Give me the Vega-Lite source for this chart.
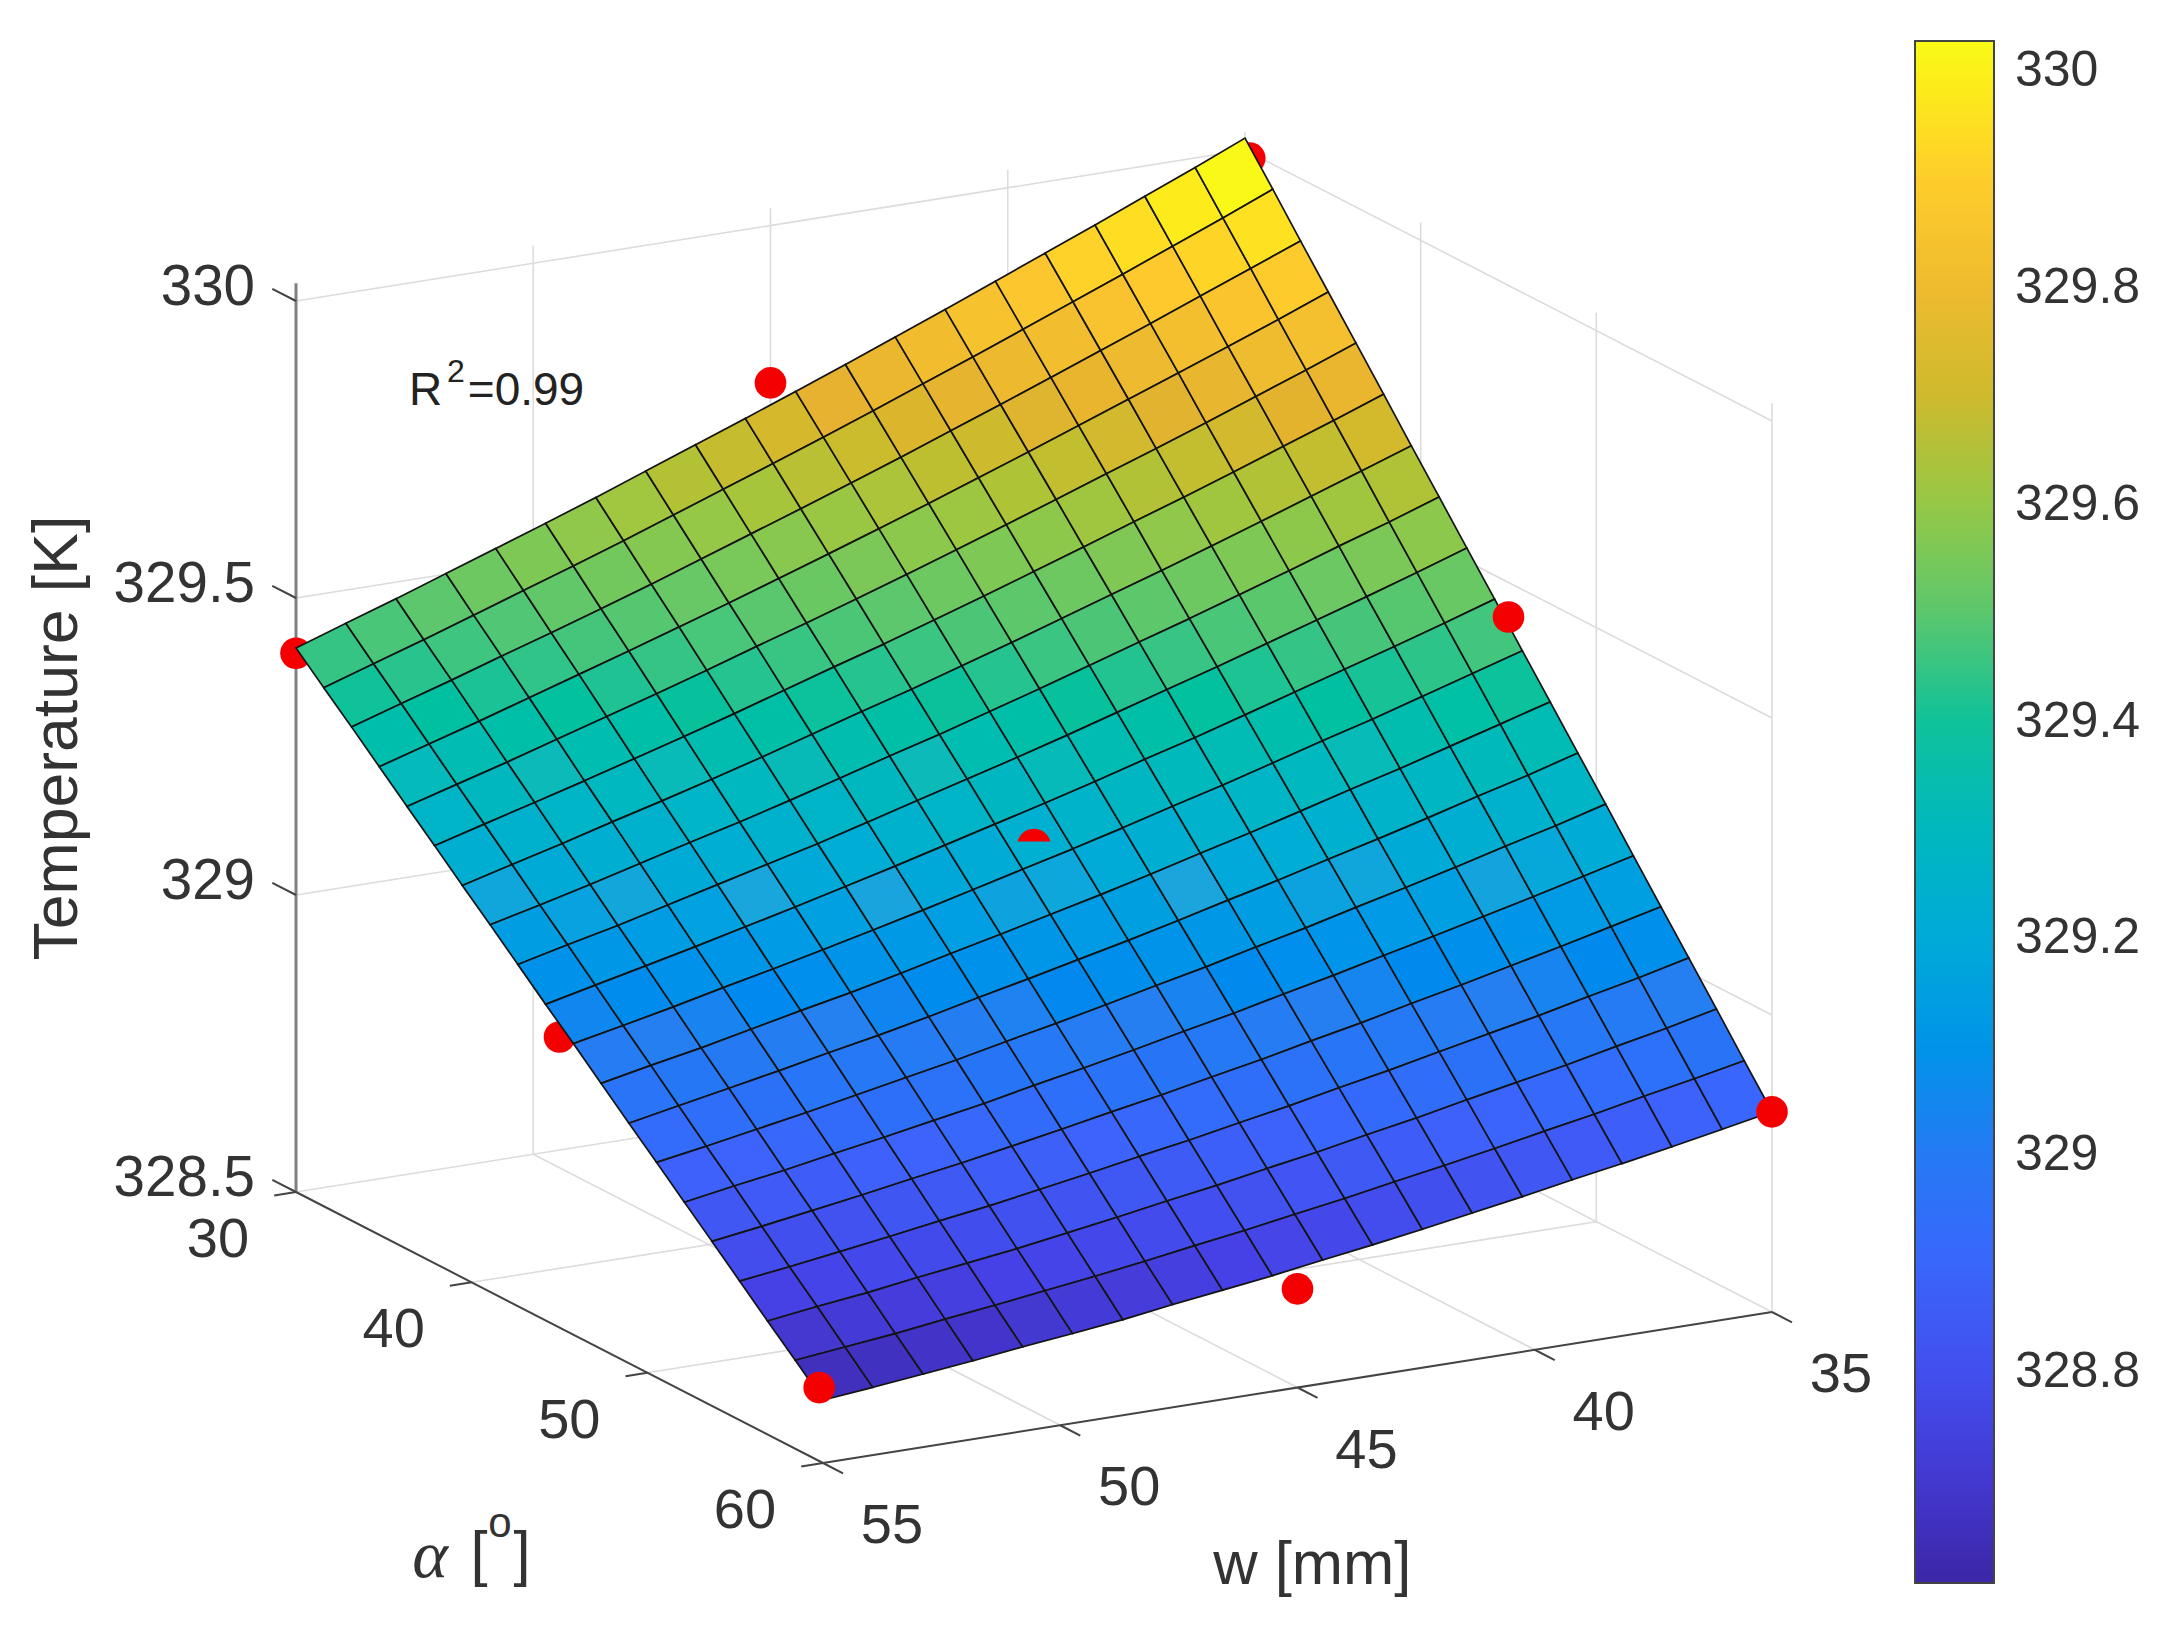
{"$schema":"https://vega.github.io/schema/vega-lite/v6.json","width":2183,"height":1647,"padding":0,"autosize":{"type":"none"},"background":"white","config":{"view":{"stroke":null},"text":{"font":"Liberation Sans"}},
"data":{"values":[
{"kind":"g","id":"f35","w":35,"a":30,"T":328.5},{"kind":"g","id":"f35","w":35,"a":60,"T":328.5},
{"kind":"g","id":"f40","w":40,"a":30,"T":328.5},{"kind":"g","id":"f40","w":40,"a":60,"T":328.5},
{"kind":"g","id":"f45","w":45,"a":30,"T":328.5},{"kind":"g","id":"f45","w":45,"a":60,"T":328.5},
{"kind":"g","id":"f50","w":50,"a":30,"T":328.5},{"kind":"g","id":"f50","w":50,"a":60,"T":328.5},
{"kind":"g","id":"fa30","w":55,"a":30,"T":328.5},{"kind":"g","id":"fa30","w":35,"a":30,"T":328.5},
{"kind":"g","id":"fa40","w":55,"a":40,"T":328.5},{"kind":"g","id":"fa40","w":35,"a":40,"T":328.5},
{"kind":"g","id":"fa50","w":55,"a":50,"T":328.5},{"kind":"g","id":"fa50","w":35,"a":50,"T":328.5},
{"kind":"g","id":"wa329","w":55,"a":30,"T":329},{"kind":"g","id":"wa329","w":35,"a":30,"T":329},
{"kind":"g","id":"wa3295","w":55,"a":30,"T":329.5},{"kind":"g","id":"wa3295","w":35,"a":30,"T":329.5},
{"kind":"g","id":"wa330","w":55,"a":30,"T":330},{"kind":"g","id":"wa330","w":35,"a":30,"T":330},
{"kind":"g","id":"wv50","w":50,"a":30,"T":328.5},{"kind":"g","id":"wv50","w":50,"a":30,"T":330.03},
{"kind":"g","id":"wv45","w":45,"a":30,"T":328.5},{"kind":"g","id":"wv45","w":45,"a":30,"T":330.03},
{"kind":"g","id":"wv40","w":40,"a":30,"T":328.5},{"kind":"g","id":"wv40","w":40,"a":30,"T":330.03},
{"kind":"g","id":"wv35","w":35,"a":30,"T":328.5},{"kind":"g","id":"wv35","w":35,"a":30,"T":330.03},
{"kind":"g","id":"wb329","w":35,"a":30,"T":329},{"kind":"g","id":"wb329","w":35,"a":60,"T":329},
{"kind":"g","id":"wb3295","w":35,"a":30,"T":329.5},{"kind":"g","id":"wb3295","w":35,"a":60,"T":329.5},
{"kind":"g","id":"wb330","w":35,"a":30,"T":330},{"kind":"g","id":"wb330","w":35,"a":60,"T":330},
{"kind":"g","id":"bv40","w":35,"a":40,"T":328.5},{"kind":"g","id":"bv40","w":35,"a":40,"T":330.03},
{"kind":"g","id":"bv50","w":35,"a":50,"T":328.5},{"kind":"g","id":"bv50","w":35,"a":50,"T":330.03},
{"kind":"g","id":"bv60","w":35,"a":60,"T":328.5},{"kind":"g","id":"bv60","w":35,"a":60,"T":330.03},
{"kind":"z","id":"zaxis","w":55,"a":30,"T":328.5},{"kind":"z","id":"zaxis","w":55,"a":30,"T":330.03},
{"kind":"x","id":"aaxis","w":55,"a":30,"T":328.5},{"kind":"x","id":"aaxis","w":55,"a":60,"T":328.5},
{"kind":"x","id":"waxis","w":55,"a":60,"T":328.5},{"kind":"x","id":"waxis","w":35,"a":60,"T":328.5},
{"kind":"x","id":"zt1","w":55,"a":30,"T":328.5},{"kind":"x","id":"zt1","w":55,"a":28.65,"T":328.5},
{"kind":"x","id":"zt2","w":55,"a":30,"T":329},{"kind":"x","id":"zt2","w":55,"a":28.65,"T":329},
{"kind":"x","id":"zt3","w":55,"a":30,"T":329.5},{"kind":"x","id":"zt3","w":55,"a":28.65,"T":329.5},
{"kind":"x","id":"zt4","w":55,"a":30,"T":330},{"kind":"x","id":"zt4","w":55,"a":28.65,"T":330},
{"kind":"x","id":"at1","w":55,"a":30,"T":328.5},{"kind":"x","id":"at1","w":55.46,"a":30,"T":328.5},
{"kind":"x","id":"at2","w":55,"a":40,"T":328.5},{"kind":"x","id":"at2","w":55.46,"a":40,"T":328.5},
{"kind":"x","id":"at3","w":55,"a":50,"T":328.5},{"kind":"x","id":"at3","w":55.46,"a":50,"T":328.5},
{"kind":"x","id":"at4","w":55,"a":60,"T":328.5},{"kind":"x","id":"at4","w":55.46,"a":60,"T":328.5},
{"kind":"x","id":"wt1","w":55,"a":60,"T":328.5},{"kind":"x","id":"wt1","w":55,"a":61.14,"T":328.5},
{"kind":"x","id":"wt2","w":50,"a":60,"T":328.5},{"kind":"x","id":"wt2","w":50,"a":61.14,"T":328.5},
{"kind":"x","id":"wt3","w":45,"a":60,"T":328.5},{"kind":"x","id":"wt3","w":45,"a":61.14,"T":328.5},
{"kind":"x","id":"wt4","w":40,"a":60,"T":328.5},{"kind":"x","id":"wt4","w":40,"a":61.14,"T":328.5},
{"kind":"x","id":"wt5","w":35,"a":60,"T":328.5},{"kind":"x","id":"wt5","w":35,"a":61.14,"T":328.5},
{"kind":"below","w":55,"a":30,"T":329.407},{"kind":"below","w":34.9,"a":30,"T":329.985},{"kind":"below","w":55,"a":45,"T":328.989},
{"kind":"cap","w":45,"a":45,"T":329.184},
{"kind":"above","w":45,"a":30,"T":329.735},{"kind":"above","w":35,"a":45,"T":329.442},{"kind":"above","w":55.08,"a":60,"T":328.628},{"kind":"above","w":45,"a":60,"T":328.666},{"kind":"above","w":35,"a":60,"T":328.837},
{"kind":"zl","w":55,"a":30,"T":330,"label":"330"},{"kind":"zl","w":55,"a":30,"T":329.5,"label":"329.5"},{"kind":"zl","w":55,"a":30,"T":329,"label":"329"},{"kind":"zl","w":55,"a":30,"T":328.5,"label":"328.5"},
{"kind":"al","w":55,"a":30,"T":328.5,"label":"30"},{"kind":"al","w":55,"a":40,"T":328.5,"label":"40"},{"kind":"al","w":55,"a":50,"T":328.5,"label":"50"},{"kind":"al","w":55,"a":60,"T":328.5,"label":"60"},
{"kind":"wl","w":55,"a":60,"T":328.5,"label":"55"},{"kind":"wl","w":50,"a":60,"T":328.5,"label":"50"},{"kind":"wl","w":45,"a":60,"T":328.5,"label":"45"},{"kind":"wl","w":40,"a":60,"T":328.5,"label":"40"},{"kind":"wl","w":35,"a":60,"T":328.5,"label":"35"},
{"kind":"ty","w":60.02,"a":30,"T":329.328,"label":"Temperature [K]"},
{"kind":"t","w":44.69,"a":60,"T":328.195,"label":"w [mm]"},
{"kind":"t","w":62.25,"a":60,"T":328.436,"label":"["},
{"kind":"t","w":61.34,"a":60,"T":328.424,"label":"]"},
{"kind":"tsup","w":61.81,"a":60,"T":328.484,"label":"o"},
{"kind":"talpha","w":63.28,"a":60,"T":328.447,"label":"α"},
{"kind":"r","w":52.62,"a":30,"T":329.794,"label":"R"},
{"kind":"r2","w":51.82,"a":30,"T":329.823,"label":"2"},
{"kind":"r","w":51.38,"a":30,"T":329.779,"label":"=0.99"},
{"kind":"cb","T":328.8},{"kind":"cb","T":329},{"kind":"cb","T":329.2},{"kind":"cb","T":329.4},{"kind":"cb","T":329.6},{"kind":"cb","T":329.8},{"kind":"cb","T":330},
{"kind":"s","w":55,"a":30,"T":329.416},{"kind":"s","w":55,"a":31.58,"T":329.373},{"kind":"s","w":55,"a":33.16,"T":329.331},{"kind":"s","w":55,"a":34.74,"T":329.288},{"kind":"s","w":55,"a":36.32,"T":329.245},{"kind":"s","w":55,"a":37.89,"T":329.203},{"kind":"s","w":55,"a":39.47,"T":329.16},{"kind":"s","w":55,"a":41.05,"T":329.118},{"kind":"s","w":55,"a":42.63,"T":329.075},{"kind":"s","w":55,"a":44.21,"T":329.032},{"kind":"s","w":55,"a":45.79,"T":328.99},{"kind":"s","w":55,"a":47.37,"T":328.947},{"kind":"s","w":55,"a":48.95,"T":328.904},{"kind":"s","w":55,"a":50.53,"T":328.862},{"kind":"s","w":55,"a":52.11,"T":328.819},{"kind":"s","w":55,"a":53.68,"T":328.777},{"kind":"s","w":55,"a":55.26,"T":328.734},{"kind":"s","w":55,"a":56.84,"T":328.691},{"kind":"s","w":55,"a":58.42,"T":328.649},{"kind":"s","w":55,"a":60,"T":328.606},
{"kind":"s","w":53.95,"a":30,"T":329.444},{"kind":"s","w":53.95,"a":31.58,"T":329.4},{"kind":"s","w":53.95,"a":33.16,"T":329.357},{"kind":"s","w":53.95,"a":34.74,"T":329.313},{"kind":"s","w":53.95,"a":36.32,"T":329.269},{"kind":"s","w":53.95,"a":37.89,"T":329.226},{"kind":"s","w":53.95,"a":39.47,"T":329.182},{"kind":"s","w":53.95,"a":41.05,"T":329.138},{"kind":"s","w":53.95,"a":42.63,"T":329.095},{"kind":"s","w":53.95,"a":44.21,"T":329.051},{"kind":"s","w":53.95,"a":45.79,"T":329.007},{"kind":"s","w":53.95,"a":47.37,"T":328.964},{"kind":"s","w":53.95,"a":48.95,"T":328.92},{"kind":"s","w":53.95,"a":50.53,"T":328.876},{"kind":"s","w":53.95,"a":52.11,"T":328.833},{"kind":"s","w":53.95,"a":53.68,"T":328.789},{"kind":"s","w":53.95,"a":55.26,"T":328.745},{"kind":"s","w":53.95,"a":56.84,"T":328.702},{"kind":"s","w":53.95,"a":58.42,"T":328.658},{"kind":"s","w":53.95,"a":60,"T":328.614},
{"kind":"s","w":52.89,"a":30,"T":329.472},{"kind":"s","w":52.89,"a":31.58,"T":329.427},{"kind":"s","w":52.89,"a":33.16,"T":329.383},{"kind":"s","w":52.89,"a":34.74,"T":329.338},{"kind":"s","w":52.89,"a":36.32,"T":329.293},{"kind":"s","w":52.89,"a":37.89,"T":329.249},{"kind":"s","w":52.89,"a":39.47,"T":329.204},{"kind":"s","w":52.89,"a":41.05,"T":329.159},{"kind":"s","w":52.89,"a":42.63,"T":329.114},{"kind":"s","w":52.89,"a":44.21,"T":329.07},{"kind":"s","w":52.89,"a":45.79,"T":329.025},{"kind":"s","w":52.89,"a":47.37,"T":328.98},{"kind":"s","w":52.89,"a":48.95,"T":328.936},{"kind":"s","w":52.89,"a":50.53,"T":328.891},{"kind":"s","w":52.89,"a":52.11,"T":328.846},{"kind":"s","w":52.89,"a":53.68,"T":328.802},{"kind":"s","w":52.89,"a":55.26,"T":328.757},{"kind":"s","w":52.89,"a":56.84,"T":328.712},{"kind":"s","w":52.89,"a":58.42,"T":328.667},{"kind":"s","w":52.89,"a":60,"T":328.623},
{"kind":"s","w":51.84,"a":30,"T":329.501},{"kind":"s","w":51.84,"a":31.58,"T":329.455},{"kind":"s","w":51.84,"a":33.16,"T":329.41},{"kind":"s","w":51.84,"a":34.74,"T":329.364},{"kind":"s","w":51.84,"a":36.32,"T":329.318},{"kind":"s","w":51.84,"a":37.89,"T":329.272},{"kind":"s","w":51.84,"a":39.47,"T":329.227},{"kind":"s","w":51.84,"a":41.05,"T":329.181},{"kind":"s","w":51.84,"a":42.63,"T":329.135},{"kind":"s","w":51.84,"a":44.21,"T":329.089},{"kind":"s","w":51.84,"a":45.79,"T":329.044},{"kind":"s","w":51.84,"a":47.37,"T":328.998},{"kind":"s","w":51.84,"a":48.95,"T":328.952},{"kind":"s","w":51.84,"a":50.53,"T":328.906},{"kind":"s","w":51.84,"a":52.11,"T":328.861},{"kind":"s","w":51.84,"a":53.68,"T":328.815},{"kind":"s","w":51.84,"a":55.26,"T":328.769},{"kind":"s","w":51.84,"a":56.84,"T":328.724},{"kind":"s","w":51.84,"a":58.42,"T":328.678},{"kind":"s","w":51.84,"a":60,"T":328.632},
{"kind":"s","w":50.79,"a":30,"T":329.53},{"kind":"s","w":50.79,"a":31.58,"T":329.483},{"kind":"s","w":50.79,"a":33.16,"T":329.436},{"kind":"s","w":50.79,"a":34.74,"T":329.39},{"kind":"s","w":50.79,"a":36.32,"T":329.343},{"kind":"s","w":50.79,"a":37.89,"T":329.296},{"kind":"s","w":50.79,"a":39.47,"T":329.249},{"kind":"s","w":50.79,"a":41.05,"T":329.203},{"kind":"s","w":50.79,"a":42.63,"T":329.156},{"kind":"s","w":50.79,"a":44.21,"T":329.109},{"kind":"s","w":50.79,"a":45.79,"T":329.062},{"kind":"s","w":50.79,"a":47.37,"T":329.016},{"kind":"s","w":50.79,"a":48.95,"T":328.969},{"kind":"s","w":50.79,"a":50.53,"T":328.922},{"kind":"s","w":50.79,"a":52.11,"T":328.875},{"kind":"s","w":50.79,"a":53.68,"T":328.829},{"kind":"s","w":50.79,"a":55.26,"T":328.782},{"kind":"s","w":50.79,"a":56.84,"T":328.735},{"kind":"s","w":50.79,"a":58.42,"T":328.688},{"kind":"s","w":50.79,"a":60,"T":328.642},
{"kind":"s","w":49.74,"a":30,"T":329.559},{"kind":"s","w":49.74,"a":31.58,"T":329.511},{"kind":"s","w":49.74,"a":33.16,"T":329.463},{"kind":"s","w":49.74,"a":34.74,"T":329.416},{"kind":"s","w":49.74,"a":36.32,"T":329.368},{"kind":"s","w":49.74,"a":37.89,"T":329.32},{"kind":"s","w":49.74,"a":39.47,"T":329.272},{"kind":"s","w":49.74,"a":41.05,"T":329.224},{"kind":"s","w":49.74,"a":42.63,"T":329.177},{"kind":"s","w":49.74,"a":44.21,"T":329.129},{"kind":"s","w":49.74,"a":45.79,"T":329.081},{"kind":"s","w":49.74,"a":47.37,"T":329.033},{"kind":"s","w":49.74,"a":48.95,"T":328.985},{"kind":"s","w":49.74,"a":50.53,"T":328.938},{"kind":"s","w":49.74,"a":52.11,"T":328.89},{"kind":"s","w":49.74,"a":53.68,"T":328.842},{"kind":"s","w":49.74,"a":55.26,"T":328.794},{"kind":"s","w":49.74,"a":56.84,"T":328.746},{"kind":"s","w":49.74,"a":58.42,"T":328.699},{"kind":"s","w":49.74,"a":60,"T":328.651},
{"kind":"s","w":48.68,"a":30,"T":329.589},{"kind":"s","w":48.68,"a":31.58,"T":329.54},{"kind":"s","w":48.68,"a":33.16,"T":329.491},{"kind":"s","w":48.68,"a":34.74,"T":329.443},{"kind":"s","w":48.68,"a":36.32,"T":329.394},{"kind":"s","w":48.68,"a":37.89,"T":329.345},{"kind":"s","w":48.68,"a":39.47,"T":329.296},{"kind":"s","w":48.68,"a":41.05,"T":329.247},{"kind":"s","w":48.68,"a":42.63,"T":329.198},{"kind":"s","w":48.68,"a":44.21,"T":329.15},{"kind":"s","w":48.68,"a":45.79,"T":329.101},{"kind":"s","w":48.68,"a":47.37,"T":329.052},{"kind":"s","w":48.68,"a":48.95,"T":329.003},{"kind":"s","w":48.68,"a":50.53,"T":328.954},{"kind":"s","w":48.68,"a":52.11,"T":328.905},{"kind":"s","w":48.68,"a":53.68,"T":328.857},{"kind":"s","w":48.68,"a":55.26,"T":328.808},{"kind":"s","w":48.68,"a":56.84,"T":328.759},{"kind":"s","w":48.68,"a":58.42,"T":328.71},{"kind":"s","w":48.68,"a":60,"T":328.661},
{"kind":"s","w":47.63,"a":30,"T":329.62},{"kind":"s","w":47.63,"a":31.58,"T":329.57},{"kind":"s","w":47.63,"a":33.16,"T":329.52},{"kind":"s","w":47.63,"a":34.74,"T":329.47},{"kind":"s","w":47.63,"a":36.32,"T":329.421},{"kind":"s","w":47.63,"a":37.89,"T":329.371},{"kind":"s","w":47.63,"a":39.47,"T":329.321},{"kind":"s","w":47.63,"a":41.05,"T":329.271},{"kind":"s","w":47.63,"a":42.63,"T":329.221},{"kind":"s","w":47.63,"a":44.21,"T":329.171},{"kind":"s","w":47.63,"a":45.79,"T":329.121},{"kind":"s","w":47.63,"a":47.37,"T":329.072},{"kind":"s","w":47.63,"a":48.95,"T":329.022},{"kind":"s","w":47.63,"a":50.53,"T":328.972},{"kind":"s","w":47.63,"a":52.11,"T":328.922},{"kind":"s","w":47.63,"a":53.68,"T":328.872},{"kind":"s","w":47.63,"a":55.26,"T":328.822},{"kind":"s","w":47.63,"a":56.84,"T":328.772},{"kind":"s","w":47.63,"a":58.42,"T":328.722},{"kind":"s","w":47.63,"a":60,"T":328.673},
{"kind":"s","w":46.58,"a":30,"T":329.651},{"kind":"s","w":46.58,"a":31.58,"T":329.6},{"kind":"s","w":46.58,"a":33.16,"T":329.549},{"kind":"s","w":46.58,"a":34.74,"T":329.498},{"kind":"s","w":46.58,"a":36.32,"T":329.447},{"kind":"s","w":46.58,"a":37.89,"T":329.397},{"kind":"s","w":46.58,"a":39.47,"T":329.346},{"kind":"s","w":46.58,"a":41.05,"T":329.295},{"kind":"s","w":46.58,"a":42.63,"T":329.244},{"kind":"s","w":46.58,"a":44.21,"T":329.193},{"kind":"s","w":46.58,"a":45.79,"T":329.142},{"kind":"s","w":46.58,"a":47.37,"T":329.091},{"kind":"s","w":46.58,"a":48.95,"T":329.04},{"kind":"s","w":46.58,"a":50.53,"T":328.989},{"kind":"s","w":46.58,"a":52.11,"T":328.938},{"kind":"s","w":46.58,"a":53.68,"T":328.888},{"kind":"s","w":46.58,"a":55.26,"T":328.837},{"kind":"s","w":46.58,"a":56.84,"T":328.786},{"kind":"s","w":46.58,"a":58.42,"T":328.735},{"kind":"s","w":46.58,"a":60,"T":328.684},
{"kind":"s","w":45.53,"a":30,"T":329.682},{"kind":"s","w":45.53,"a":31.58,"T":329.63},{"kind":"s","w":45.53,"a":33.16,"T":329.578},{"kind":"s","w":45.53,"a":34.74,"T":329.526},{"kind":"s","w":45.53,"a":36.32,"T":329.474},{"kind":"s","w":45.53,"a":37.89,"T":329.422},{"kind":"s","w":45.53,"a":39.47,"T":329.37},{"kind":"s","w":45.53,"a":41.05,"T":329.318},{"kind":"s","w":45.53,"a":42.63,"T":329.267},{"kind":"s","w":45.53,"a":44.21,"T":329.215},{"kind":"s","w":45.53,"a":45.79,"T":329.163},{"kind":"s","w":45.53,"a":47.37,"T":329.111},{"kind":"s","w":45.53,"a":48.95,"T":329.059},{"kind":"s","w":45.53,"a":50.53,"T":329.007},{"kind":"s","w":45.53,"a":52.11,"T":328.955},{"kind":"s","w":45.53,"a":53.68,"T":328.903},{"kind":"s","w":45.53,"a":55.26,"T":328.851},{"kind":"s","w":45.53,"a":56.84,"T":328.799},{"kind":"s","w":45.53,"a":58.42,"T":328.747},{"kind":"s","w":45.53,"a":60,"T":328.695},
{"kind":"s","w":44.47,"a":30,"T":329.714},{"kind":"s","w":44.47,"a":31.58,"T":329.661},{"kind":"s","w":44.47,"a":33.16,"T":329.608},{"kind":"s","w":44.47,"a":34.74,"T":329.555},{"kind":"s","w":44.47,"a":36.32,"T":329.502},{"kind":"s","w":44.47,"a":37.89,"T":329.449},{"kind":"s","w":44.47,"a":39.47,"T":329.396},{"kind":"s","w":44.47,"a":41.05,"T":329.343},{"kind":"s","w":44.47,"a":42.63,"T":329.29},{"kind":"s","w":44.47,"a":44.21,"T":329.237},{"kind":"s","w":44.47,"a":45.79,"T":329.184},{"kind":"s","w":44.47,"a":47.37,"T":329.131},{"kind":"s","w":44.47,"a":48.95,"T":329.078},{"kind":"s","w":44.47,"a":50.53,"T":329.026},{"kind":"s","w":44.47,"a":52.11,"T":328.973},{"kind":"s","w":44.47,"a":53.68,"T":328.92},{"kind":"s","w":44.47,"a":55.26,"T":328.867},{"kind":"s","w":44.47,"a":56.84,"T":328.814},{"kind":"s","w":44.47,"a":58.42,"T":328.761},{"kind":"s","w":44.47,"a":60,"T":328.708},
{"kind":"s","w":43.42,"a":30,"T":329.746},{"kind":"s","w":43.42,"a":31.58,"T":329.692},{"kind":"s","w":43.42,"a":33.16,"T":329.638},{"kind":"s","w":43.42,"a":34.74,"T":329.584},{"kind":"s","w":43.42,"a":36.32,"T":329.53},{"kind":"s","w":43.42,"a":37.89,"T":329.476},{"kind":"s","w":43.42,"a":39.47,"T":329.422},{"kind":"s","w":43.42,"a":41.05,"T":329.368},{"kind":"s","w":43.42,"a":42.63,"T":329.314},{"kind":"s","w":43.42,"a":44.21,"T":329.26},{"kind":"s","w":43.42,"a":45.79,"T":329.206},{"kind":"s","w":43.42,"a":47.37,"T":329.152},{"kind":"s","w":43.42,"a":48.95,"T":329.098},{"kind":"s","w":43.42,"a":50.53,"T":329.044},{"kind":"s","w":43.42,"a":52.11,"T":328.99},{"kind":"s","w":43.42,"a":53.68,"T":328.936},{"kind":"s","w":43.42,"a":55.26,"T":328.882},{"kind":"s","w":43.42,"a":56.84,"T":328.828},{"kind":"s","w":43.42,"a":58.42,"T":328.774},{"kind":"s","w":43.42,"a":60,"T":328.72},
{"kind":"s","w":42.37,"a":30,"T":329.779},{"kind":"s","w":42.37,"a":31.58,"T":329.724},{"kind":"s","w":42.37,"a":33.16,"T":329.669},{"kind":"s","w":42.37,"a":34.74,"T":329.614},{"kind":"s","w":42.37,"a":36.32,"T":329.559},{"kind":"s","w":42.37,"a":37.89,"T":329.504},{"kind":"s","w":42.37,"a":39.47,"T":329.449},{"kind":"s","w":42.37,"a":41.05,"T":329.394},{"kind":"s","w":42.37,"a":42.63,"T":329.339},{"kind":"s","w":42.37,"a":44.21,"T":329.284},{"kind":"s","w":42.37,"a":45.79,"T":329.229},{"kind":"s","w":42.37,"a":47.37,"T":329.174},{"kind":"s","w":42.37,"a":48.95,"T":329.119},{"kind":"s","w":42.37,"a":50.53,"T":329.064},{"kind":"s","w":42.37,"a":52.11,"T":329.009},{"kind":"s","w":42.37,"a":53.68,"T":328.954},{"kind":"s","w":42.37,"a":55.26,"T":328.899},{"kind":"s","w":42.37,"a":56.84,"T":328.844},{"kind":"s","w":42.37,"a":58.42,"T":328.789},{"kind":"s","w":42.37,"a":60,"T":328.733},
{"kind":"s","w":41.32,"a":30,"T":329.812},{"kind":"s","w":41.32,"a":31.58,"T":329.756},{"kind":"s","w":41.32,"a":33.16,"T":329.7},{"kind":"s","w":41.32,"a":34.74,"T":329.644},{"kind":"s","w":41.32,"a":36.32,"T":329.588},{"kind":"s","w":41.32,"a":37.89,"T":329.532},{"kind":"s","w":41.32,"a":39.47,"T":329.476},{"kind":"s","w":41.32,"a":41.05,"T":329.42},{"kind":"s","w":41.32,"a":42.63,"T":329.364},{"kind":"s","w":41.32,"a":44.21,"T":329.307},{"kind":"s","w":41.32,"a":45.79,"T":329.251},{"kind":"s","w":41.32,"a":47.37,"T":329.195},{"kind":"s","w":41.32,"a":48.95,"T":329.139},{"kind":"s","w":41.32,"a":50.53,"T":329.083},{"kind":"s","w":41.32,"a":52.11,"T":329.027},{"kind":"s","w":41.32,"a":53.68,"T":328.971},{"kind":"s","w":41.32,"a":55.26,"T":328.915},{"kind":"s","w":41.32,"a":56.84,"T":328.859},{"kind":"s","w":41.32,"a":58.42,"T":328.803},{"kind":"s","w":41.32,"a":60,"T":328.747},
{"kind":"s","w":40.26,"a":30,"T":329.846},{"kind":"s","w":40.26,"a":31.58,"T":329.789},{"kind":"s","w":40.26,"a":33.16,"T":329.732},{"kind":"s","w":40.26,"a":34.74,"T":329.675},{"kind":"s","w":40.26,"a":36.32,"T":329.618},{"kind":"s","w":40.26,"a":37.89,"T":329.561},{"kind":"s","w":40.26,"a":39.47,"T":329.503},{"kind":"s","w":40.26,"a":41.05,"T":329.446},{"kind":"s","w":40.26,"a":42.63,"T":329.389},{"kind":"s","w":40.26,"a":44.21,"T":329.332},{"kind":"s","w":40.26,"a":45.79,"T":329.275},{"kind":"s","w":40.26,"a":47.37,"T":329.218},{"kind":"s","w":40.26,"a":48.95,"T":329.161},{"kind":"s","w":40.26,"a":50.53,"T":329.104},{"kind":"s","w":40.26,"a":52.11,"T":329.047},{"kind":"s","w":40.26,"a":53.68,"T":328.99},{"kind":"s","w":40.26,"a":55.26,"T":328.933},{"kind":"s","w":40.26,"a":56.84,"T":328.876},{"kind":"s","w":40.26,"a":58.42,"T":328.818},{"kind":"s","w":40.26,"a":60,"T":328.761},
{"kind":"s","w":39.21,"a":30,"T":329.88},{"kind":"s","w":39.21,"a":31.58,"T":329.822},{"kind":"s","w":39.21,"a":33.16,"T":329.764},{"kind":"s","w":39.21,"a":34.74,"T":329.706},{"kind":"s","w":39.21,"a":36.32,"T":329.647},{"kind":"s","w":39.21,"a":37.89,"T":329.589},{"kind":"s","w":39.21,"a":39.47,"T":329.531},{"kind":"s","w":39.21,"a":41.05,"T":329.473},{"kind":"s","w":39.21,"a":42.63,"T":329.415},{"kind":"s","w":39.21,"a":44.21,"T":329.357},{"kind":"s","w":39.21,"a":45.79,"T":329.299},{"kind":"s","w":39.21,"a":47.37,"T":329.241},{"kind":"s","w":39.21,"a":48.95,"T":329.182},{"kind":"s","w":39.21,"a":50.53,"T":329.124},{"kind":"s","w":39.21,"a":52.11,"T":329.066},{"kind":"s","w":39.21,"a":53.68,"T":329.008},{"kind":"s","w":39.21,"a":55.26,"T":328.95},{"kind":"s","w":39.21,"a":56.84,"T":328.892},{"kind":"s","w":39.21,"a":58.42,"T":328.834},{"kind":"s","w":39.21,"a":60,"T":328.776},
{"kind":"s","w":38.16,"a":30,"T":329.914},{"kind":"s","w":38.16,"a":31.58,"T":329.855},{"kind":"s","w":38.16,"a":33.16,"T":329.796},{"kind":"s","w":38.16,"a":34.74,"T":329.737},{"kind":"s","w":38.16,"a":36.32,"T":329.677},{"kind":"s","w":38.16,"a":37.89,"T":329.618},{"kind":"s","w":38.16,"a":39.47,"T":329.559},{"kind":"s","w":38.16,"a":41.05,"T":329.5},{"kind":"s","w":38.16,"a":42.63,"T":329.441},{"kind":"s","w":38.16,"a":44.21,"T":329.382},{"kind":"s","w":38.16,"a":45.79,"T":329.322},{"kind":"s","w":38.16,"a":47.37,"T":329.263},{"kind":"s","w":38.16,"a":48.95,"T":329.204},{"kind":"s","w":38.16,"a":50.53,"T":329.145},{"kind":"s","w":38.16,"a":52.11,"T":329.086},{"kind":"s","w":38.16,"a":53.68,"T":329.027},{"kind":"s","w":38.16,"a":55.26,"T":328.967},{"kind":"s","w":38.16,"a":56.84,"T":328.908},{"kind":"s","w":38.16,"a":58.42,"T":328.849},{"kind":"s","w":38.16,"a":60,"T":328.79},
{"kind":"s","w":37.11,"a":30,"T":329.949},{"kind":"s","w":37.11,"a":31.58,"T":329.889},{"kind":"s","w":37.11,"a":33.16,"T":329.829},{"kind":"s","w":37.11,"a":34.74,"T":329.768},{"kind":"s","w":37.11,"a":36.32,"T":329.708},{"kind":"s","w":37.11,"a":37.89,"T":329.648},{"kind":"s","w":37.11,"a":39.47,"T":329.588},{"kind":"s","w":37.11,"a":41.05,"T":329.528},{"kind":"s","w":37.11,"a":42.63,"T":329.467},{"kind":"s","w":37.11,"a":44.21,"T":329.407},{"kind":"s","w":37.11,"a":45.79,"T":329.347},{"kind":"s","w":37.11,"a":47.37,"T":329.287},{"kind":"s","w":37.11,"a":48.95,"T":329.227},{"kind":"s","w":37.11,"a":50.53,"T":329.167},{"kind":"s","w":37.11,"a":52.11,"T":329.106},{"kind":"s","w":37.11,"a":53.68,"T":329.046},{"kind":"s","w":37.11,"a":55.26,"T":328.986},{"kind":"s","w":37.11,"a":56.84,"T":328.926},{"kind":"s","w":37.11,"a":58.42,"T":328.866},{"kind":"s","w":37.11,"a":60,"T":328.805},
{"kind":"s","w":36.05,"a":30,"T":329.984},{"kind":"s","w":36.05,"a":31.58,"T":329.923},{"kind":"s","w":36.05,"a":33.16,"T":329.862},{"kind":"s","w":36.05,"a":34.74,"T":329.8},{"kind":"s","w":36.05,"a":36.32,"T":329.739},{"kind":"s","w":36.05,"a":37.89,"T":329.678},{"kind":"s","w":36.05,"a":39.47,"T":329.617},{"kind":"s","w":36.05,"a":41.05,"T":329.555},{"kind":"s","w":36.05,"a":42.63,"T":329.494},{"kind":"s","w":36.05,"a":44.21,"T":329.433},{"kind":"s","w":36.05,"a":45.79,"T":329.372},{"kind":"s","w":36.05,"a":47.37,"T":329.311},{"kind":"s","w":36.05,"a":48.95,"T":329.249},{"kind":"s","w":36.05,"a":50.53,"T":329.188},{"kind":"s","w":36.05,"a":52.11,"T":329.127},{"kind":"s","w":36.05,"a":53.68,"T":329.066},{"kind":"s","w":36.05,"a":55.26,"T":329.004},{"kind":"s","w":36.05,"a":56.84,"T":328.943},{"kind":"s","w":36.05,"a":58.42,"T":328.882},{"kind":"s","w":36.05,"a":60,"T":328.821},
{"kind":"s","w":35,"a":30,"T":330.02},{"kind":"s","w":35,"a":31.58,"T":329.958},{"kind":"s","w":35,"a":33.16,"T":329.895},{"kind":"s","w":35,"a":34.74,"T":329.833},{"kind":"s","w":35,"a":36.32,"T":329.771},{"kind":"s","w":35,"a":37.89,"T":329.709},{"kind":"s","w":35,"a":39.47,"T":329.646},{"kind":"s","w":35,"a":41.05,"T":329.584},{"kind":"s","w":35,"a":42.63,"T":329.522},{"kind":"s","w":35,"a":44.21,"T":329.46},{"kind":"s","w":35,"a":45.79,"T":329.397},{"kind":"s","w":35,"a":47.37,"T":329.335},{"kind":"s","w":35,"a":48.95,"T":329.273},{"kind":"s","w":35,"a":50.53,"T":329.211},{"kind":"s","w":35,"a":52.11,"T":329.148},{"kind":"s","w":35,"a":53.68,"T":329.086},{"kind":"s","w":35,"a":55.26,"T":329.024},{"kind":"s","w":35,"a":56.84,"T":328.962},{"kind":"s","w":35,"a":58.42,"T":328.899},{"kind":"s","w":35,"a":60,"T":328.837}
]},
"transform":[
{"calculate":"296+949*(55-datum.w)/20+527*(datum.a-30)/30","as":"px"},
{"calculate":"1192-151*(55-datum.w)/20+271*(datum.a-30)/30-594*(datum.T-328.5)","as":"py"}
],
"encoding":{
"x":{"field":"px","type":"quantitative","scale":{"domain":[0,2183]},"axis":null},
"y":{"field":"py","type":"quantitative","scale":{"domain":[1647,0]},"axis":null}
},
"layer":[
{"transform":[{"filter":"datum.kind=='g'"}],"mark":{"type":"line","stroke":"#dcdcdc","strokeWidth":1.6},"encoding":{"detail":{"field":"id"}}},
{"transform":[{"filter":"datum.kind=='z'"}],"mark":{"type":"line","stroke":"#808080","strokeWidth":3},"encoding":{"detail":{"field":"id"}}},
{"transform":[{"filter":"datum.kind=='x'"}],"mark":{"type":"line","stroke":"#444444","strokeWidth":2},"encoding":{"detail":{"field":"id"}}},
{"transform":[{"filter":"datum.kind=='below'"}],"mark":{"type":"point","filled":true,"shape":"circle","size":1000,"fill":"#f50000","stroke":null,"opacity":1}},
{"transform":[
{"filter":"datum.kind=='s'"},
{"calculate":"round((55-datum.w)*19/20)","as":"i"},
{"calculate":"round((datum.a-30)*19/30)","as":"j"},
{"calculate":"[{c:datum.i*100+datum.j,o:0,ok:datum.i<19&&datum.j<19},{c:(datum.i-1)*100+datum.j,o:1,ok:datum.i>0&&datum.j<19},{c:(datum.i-1)*100+datum.j-1,o:2,ok:datum.i>0&&datum.j>0},{c:datum.i*100+datum.j-1,o:3,ok:datum.i<19&&datum.j>0}]","as":"corners"},
{"flatten":["corners"],"as":["corner"]},
{"filter":"datum.corner.ok"},
{"calculate":"datum.corner.c","as":"cell"},
{"calculate":"datum.corner.o","as":"vertex"},
{"joinaggregate":[{"op":"max","field":"T","as":"Tm"}],"groupby":["cell"]}
],
"mark":{"type":"line","interpolate":"linear-closed","stroke":"#141414","strokeWidth":1.7,"strokeJoin":"miter"},
"encoding":{
"detail":{"field":"cell","type":"nominal"},
"order":{"field":"vertex","type":"quantitative"},
"fill":{"field":"Tm","type":"quantitative",
"scale":{"domain":[328.605,328.747,328.89,329.032,329.174,329.317,329.459,329.601,329.743,329.886,330.028],"range":["#3b26a6","#4641e6","#3c64fc","#2680f0","#1ca5dc","#0cbab9","#41c57d","#96c846","#e5b22f","#fdc82e","#f9fb15"]},
"legend":{"orient":"none","legendX":1915,"legendY":41,"title":null,"direction":"vertical","gradientLength":1542,"gradientThickness":79,"values":[328.8,329,329.2,329.4,329.6,329.8,330],"format":".1~f","labelFont":"Liberation Sans","labelFontSize":50,"labelColor":"#333333","labelOffset":21,"labelOverlap":false,"gradientStrokeColor":"#444444","gradientStrokeWidth":2,"encoding":{"labels":{"update":{"dy":{"value":4}}}}}}
}},
{"transform":[{"filter":"datum.kind=='above'"}],"mark":{"type":"point","filled":true,"shape":"circle","size":1000,"fill":"#f50000","stroke":null,"opacity":1}},
{"transform":[{"filter":"datum.kind=='cap'"}],"mark":{"type":"point","filled":true,"shape":"M -0.97 -0.24 A 1 1 0 0 1 0.97 -0.24 Z","size":1156,"fill":"#f50000","stroke":null,"opacity":1}},
{"transform":[{"filter":"datum.kind=='cb'"},{"calculate":"1978","as":"cx"},{"calculate":"1994","as":"cx2"},{"calculate":"71.7+(330-datum.T)*1083","as":"cy"}],"mark":{"type":"rule","stroke":"#444444","strokeWidth":2},"encoding":{"x":{"field":"cx","type":"quantitative"},"x2":{"field":"cx2"},"y":{"field":"cy","type":"quantitative"}}},
{"transform":[{"filter":"datum.kind=='zl'"}],"mark":{"type":"text","font":"Liberation Sans","fontSize":56.5,"fill":"#333333","align":"right","baseline":"middle","dx":-41,"dy":-13},"encoding":{"text":{"field":"label"}}},
{"transform":[{"filter":"datum.kind=='al'"}],"mark":{"type":"text","font":"Liberation Sans","fontSize":56,"fill":"#333333","align":"center","baseline":"middle","dx":-78,"dy":48},"encoding":{"text":{"field":"label"}}},
{"transform":[{"filter":"datum.kind=='wl'"}],"mark":{"type":"text","font":"Liberation Sans","fontSize":56,"fill":"#333333","align":"center","baseline":"middle","dx":69,"dy":63},"encoding":{"text":{"field":"label"}}},
{"transform":[{"filter":"datum.kind=='ty'"}],"mark":{"type":"text","font":"Liberation Sans","fontSize":62.5,"fill":"#333333","align":"center","baseline":"middle","angle":270},"encoding":{"text":{"field":"label"}}},
{"transform":[{"filter":"datum.kind=='t'"}],"mark":{"type":"text","font":"Liberation Sans","fontSize":61.5,"fill":"#333333","align":"center","baseline":"middle"},"encoding":{"text":{"field":"label"}}},
{"transform":[{"filter":"datum.kind=='tsup'"}],"mark":{"type":"text","font":"Liberation Sans","fontSize":42,"fill":"#333333","align":"center","baseline":"middle"},"encoding":{"text":{"field":"label"}}},
{"transform":[{"filter":"datum.kind=='talpha'"}],"mark":{"type":"text","font":"Liberation Serif","fontStyle":"italic","fontSize":68,"fill":"#333333","align":"center","baseline":"middle"},"encoding":{"text":{"field":"label"}}},
{"transform":[{"filter":"datum.kind=='r'"}],"mark":{"type":"text","font":"Liberation Sans","fontSize":46,"fill":"#222222","align":"left","baseline":"alphabetic"},"encoding":{"text":{"field":"label"}}},
{"transform":[{"filter":"datum.kind=='r2'"}],"mark":{"type":"text","font":"Liberation Sans","fontSize":32,"fill":"#222222","align":"left","baseline":"alphabetic"},"encoding":{"text":{"field":"label"}}}
]}
